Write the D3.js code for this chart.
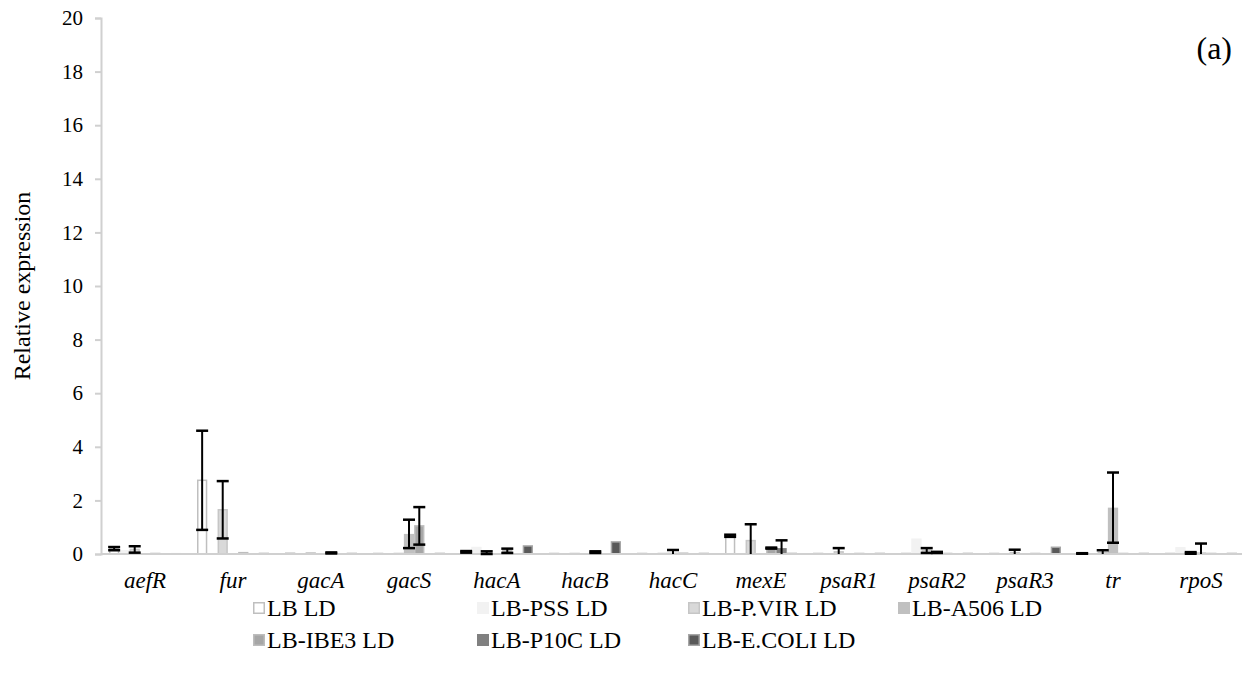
<!DOCTYPE html>
<html>
<head>
<meta charset="utf-8">
<script src="https://cdn.jsdelivr.net/npm/d3@7"></script>
<style>
  html, body { margin: 0; padding: 0; background: #fff; }
  svg { display: block; }
  svg text { font-family: "Liberation Serif", "Times New Roman", serif; fill: #000; }
</style>
</head>
<body>
<svg id="chart" width="1242" height="692"></svg>
<script>
// Genes on the x axis
const categories = ["aefR", "fur", "gacA", "gacS", "hacA", "hacB", "hacC", "mexE", "psaR1", "psaR2", "psaR3", "tr", "rpoS"];

// Series names (legend order)
const seriesNames = ["LB LD", "LB-PSS LD", "LB-P.VIR LD", "LB-A506 LD", "LB-IBE3 LD", "LB-P10C LD", "LB-E.COLI LD"];

// Mean relative expression per gene, one array per series
const lbLD     = [0.20, 2.75, 0.03, 0.02, 0.08, 0.02, 0.02, 0.68, 0.02, 0.02, 0.02, 0.02, 0.02];
const lbPSS    = [0.15, 0.02, 0.02, 0.02, 0.27, 0.02, 0.02, 0.02, 0.02, 0.58, 0.02, 0.02, 0.26];
const lbPVIR   = [0.17, 1.65, 0.04, 0.02, 0.05, 0.02, 0.02, 0.50, 0.08, 0.13, 0.05, 0.05, 0.04];
const lbA506   = [0.03, 0.02, 0.02, 0.75, 0.02, 0.02, 0.05, 0.02, 0.02, 0.06, 0.02, 1.73, 0.06];
const lbIBE3   = [0.02, 0.05, 0.04, 1.05, 0.12, 0.07, 0.03, 0.22, 0.02, 0.02, 0.02, 0.02, 0.02];
const lbP10C   = [0.03, 0.03, 0.02, 0.03, 0.02, 0.02, 0.02, 0.22, 0.02, 0.02, 0.02, 0.02, 0.02];
const lbECOLI  = [0.01, 0.02, 0.02, 0.02, 0.30, 0.45, 0.02, 0.02, 0.02, 0.02, 0.25, 0.02, 0.02];

// Standard deviations (error bars)
const errLB     = [0.06, 1.85, 0, 0, 0.03, 0, 0, 0.04, 0, 0, 0, 0.01, 0];
const errPSS    = [0, 0, 0, 0, 0, 0, 0, 0, 0, 0, 0, 0, 0];
const errPVIR   = [0.12, 1.07, 0, 0, 0.05, 0, 0, 0.61, 0.14, 0.09, 0.11, 0.09, 0.03];
const errA506   = [0, 0, 0, 0.53, 0, 0, 0.10, 0, 0, 0.02, 0, 1.31, 0.33];
const errIBE3   = [0, 0, 0.02, 0.70, 0.08, 0.03, 0, 0.02, 0, 0, 0, 0, 0];
const errP10C   = [0, 0, 0, 0, 0, 0, 0, 0.29, 0, 0, 0, 0, 0];
const errECOLI  = [0, 0, 0, 0, 0, 0, 0, 0, 0, 0, 0, 0, 0];

// Y axis ticks
const yTicks = [0, 2, 4, 6, 8, 10, 12, 14, 16, 18, 20];

const seriesValues = [lbLD, lbPSS, lbPVIR, lbA506, lbIBE3, lbP10C, lbECOLI];
const seriesErrors = [errLB, errPSS, errPVIR, errA506, errIBE3, errP10C, errECOLI];

// Fill / outline per series
const fills   = ["#ffffff", "#f2f2f2", "#d9d9d9", "#c0c0c0", "#a6a6a6", "#808080", "#595959"];
const strokes = ["#bfbfbf", "none",    "#c6c6c6", "none",    "#bdbdbd", "none",    "#a6a6a6"];

const svg = d3.select("#chart");

const plot = { left: 101, right: 1245, top: 18, bottom: 554 };

const x = d3.scaleBand().domain(categories).range([plot.left, plot.right]).paddingInner(0).paddingOuter(0);
const xs = d3.scaleBand().domain(seriesNames).range([-36, 36]).padding(0);
const y = d3.scaleLinear().domain([0, 20]).range([plot.bottom, plot.top]);

// Y axis
const yAxis = d3.axisLeft(y).tickValues(yTicks).tickSize(6).tickPadding(12).tickFormat(d3.format("d"));
const gy = svg.append("g").attr("transform", `translate(${plot.left},0)`).call(yAxis);
gy.attr("font-family", null).attr("font-size", null);
gy.select(".domain").attr("stroke", "#d0d0d0").attr("stroke-width", 2);
gy.selectAll(".tick line").attr("stroke", "#d0d0d0").attr("stroke-width", 2);
gy.selectAll(".tick text").attr("fill", "#000").style("font-size", "21px");

// Bars
const barData = [];
seriesNames.forEach((s, j) => {
  categories.forEach((c, i) => {
    barData.push({ cat: c, series: s, j, value: seriesValues[j][i], err: seriesErrors[j][i] });
  });
});

const bw = xs.bandwidth();
svg.append("g").selectAll("rect")
  .data(barData)
  .join("rect")
  .attr("x", d => x(d.cat) + x.bandwidth() / 2 + xs(d.series) + (strokes[d.j] !== "none" ? 0.75 : 0))
  .attr("y", d => y(d.value))
  .attr("width", d => bw - (strokes[d.j] !== "none" ? 1.5 : 0))
  .attr("height", d => y(0) - y(d.value))
  .attr("fill", d => fills[d.j])
  .attr("stroke", d => strokes[d.j])
  .attr("stroke-width", 1.5);

// X axis baseline
svg.append("line")
  .attr("x1", plot.left).attr("x2", 1242)
  .attr("y1", y(0)).attr("y2", y(0))
  .attr("stroke", "#d0d0d0").attr("stroke-width", 2);

// Error bars
const errData = barData.filter(d => d.err > 0);
const eg = svg.append("g").attr("stroke", "#000");
const cx = d => x(d.cat) + x.bandwidth() / 2 + xs(d.series) + bw / 2;
const capW = 12;
eg.selectAll("line.stem")
  .data(errData).join("line").attr("class", "stem")
  .attr("x1", cx).attr("x2", cx)
  .attr("y1", d => y(Math.max(0, d.value - d.err)))
  .attr("y2", d => y(d.value + d.err))
  .attr("stroke-width", 2);
eg.selectAll("line.capTop")
  .data(errData).join("line").attr("class", "capTop")
  .attr("x1", d => cx(d) - capW / 2).attr("x2", d => cx(d) + capW / 2)
  .attr("y1", d => y(d.value + d.err)).attr("y2", d => y(d.value + d.err))
  .attr("stroke-width", 2.5);
eg.selectAll("line.capBot")
  .data(errData.filter(d => d.value - d.err >= 0))
  .join("line").attr("class", "capBot")
  .attr("x1", d => cx(d) - capW / 2).attr("x2", d => cx(d) + capW / 2)
  .attr("y1", d => y(d.value - d.err)).attr("y2", d => y(d.value - d.err))
  .attr("stroke-width", 2.5);

// Category labels
svg.append("g").selectAll("text")
  .data(categories).join("text")
  .attr("x", d => x(d) + x.bandwidth() / 2)
  .attr("y", 588)
  .attr("text-anchor", "middle")
  .style("font-style", "italic")
  .style("font-size", "23px")
  .text(d => d);

// Y axis title
svg.append("text")
  .attr("transform", `translate(30,${(plot.top + plot.bottom) / 2}) rotate(-90)`)
  .attr("text-anchor", "middle")
  .style("font-size", "24px")
  .text("Relative expression");

// Panel tag
svg.append("text")
  .attr("x", 1232).attr("y", 59)
  .attr("text-anchor", "end")
  .style("font-size", "32px")
  .text("(a)");

// Legend
const legendPos = [[253, 616], [477, 616], [688, 616], [898, 616], [253, 648], [477, 648], [688, 648]];
const lg = svg.append("g").selectAll("g")
  .data(seriesNames).join("g")
  .attr("transform", (d, j) => `translate(${legendPos[j][0]},${legendPos[j][1]})`);
lg.append("rect")
  .attr("x", (d, j) => strokes[j] !== "none" ? 0.75 : 0)
  .attr("y", (d, j) => -14 + (strokes[j] !== "none" ? 0.75 : 0))
  .attr("width", (d, j) => 12 - (strokes[j] !== "none" ? 1.5 : 0))
  .attr("height", (d, j) => 12 - (strokes[j] !== "none" ? 1.5 : 0))
  .attr("fill", (d, j) => fills[j])
  .attr("stroke", (d, j) => strokes[j])
  .attr("stroke-width", 1.5);
lg.append("text")
  .attr("x", 14).attr("y", 0)
  .style("font-size", "24px")
  .text(d => d);
</script>
</body>
</html>
